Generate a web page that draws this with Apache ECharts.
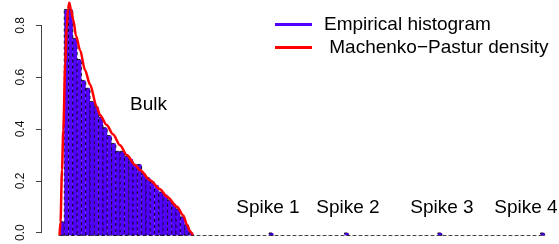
<!DOCTYPE html>
<html>
<head>
<meta charset="utf-8">
<script src="https://cdn.jsdelivr.net/npm/echarts@6/dist/echarts.min.js"></script>
<style>
  html, body { margin: 0; padding: 0; background: #fff; }
  #main { width: 559px; height: 244px; }
</style>
</head>
<body>
<div id="main"></div>
<script>
// histogram of the bulk: equal-width bins starting at bulkStart
var bulkStart = 0.08
var binWidth = 0.0915
var bulkHeights = [0.052, 0.86, 0.86, 0.75, 0.67, 0.59, 0.56, 0.51, 0.49, 0.45,
    0.41, 0.38, 0.35, 0.32, 0.32, 0.30, 0.29, 0.27, 0.27, 0.235,
    0.22, 0.205, 0.19, 0.165, 0.155, 0.135, 0.12, 0.10, 0.07, 0.04, 0.01]
// the four isolated eigenvalues
var spikeLefts = [4.528, 6.134, 8.12, 10.305]
var spikeHeights = [0.009, 0.009, 0.009, 0.009]
var spikeNames = ['Spike 1', 'Spike 2', 'Spike 3', 'Spike 4']
// Marchenko-Pastur density
var densityX = [0.071, 0.092, 0.124, 0.151, 0.194, 0.224, 0.251, 0.279, 0.315, 0.364,
    0.422, 0.507, 0.613, 0.719, 0.862, 0.932, 1.075, 1.209, 1.358, 1.507,
    1.677, 1.783, 1.996, 2.209, 2.358, 2.571, 2.705, 2.783, 2.847, 2.905]
var densityY = [0, 0.05, 0.25, 0.40, 0.66, 0.79, 0.86, 0.886, 0.86, 0.82,
    0.76, 0.706, 0.63, 0.575, 0.49, 0.458, 0.42, 0.385, 0.343, 0.305,
    0.268, 0.249, 0.21, 0.175, 0.147, 0.109, 0.075, 0.04, 0.015, 0]
var yTicks = [0, 0.2, 0.4, 0.6, 0.8]

var barColor = '#5200ff'
var font = "'Liberation Sans', Arial, Helvetica, sans-serif"

var bins = []
bulkHeights.forEach(function (h, i) {
    var x0 = bulkStart + i * binWidth
    bins.push([x0, x0 + binWidth, h])
})
spikeLefts.forEach(function (x0, i) {
    bins.push([x0, x0 + binWidth, spikeHeights[i]])
})
var curve = densityX.map(function (x, i) { return [x, densityY[i]] })

var chart = echarts.init(document.getElementById('main'), null, { renderer: 'canvas' })

chart.setOption({
    animation: false,
    textStyle: { fontFamily: font },
    grid: [
        // grid 0 only carries the visible y axis (R draws it from 0 to 0.8)
        { left: 41, top: 25.3, bottom: 8.7, width: 10 },
        // grid 1 holds the data
        { left: 59, right: 14, top: 4.3, bottom: 8.7 }
    ],
    xAxis: [
        { gridIndex: 0, type: 'value', show: false, min: 0, max: 1 },
        {
            gridIndex: 1, type: 'value', min: 0.06, max: 10.4,
            axisLine: { show: true, lineStyle: { color: '#444', width: 1, type: [3, 3] } },
            axisTick: { show: false },
            axisLabel: { show: false },
            splitLine: { show: false }
        }
    ],
    yAxis: [
        {
            gridIndex: 0, type: 'value', min: yTicks[0], max: yTicks[yTicks.length - 1], interval: 0.2,
            axisLine: { show: true, lineStyle: { color: '#444', width: 1 } },
            axisTick: { show: true, length: 5, lineStyle: { color: '#444' } },
            axisLabel: {
                rotate: 90, margin: 14, fontSize: 12, color: '#111',
                formatter: function (v) { return v.toFixed(1) }
            },
            splitLine: { show: false }
        },
        { gridIndex: 1, type: 'value', min: 0, max: 0.88, show: false }
    ],
    legend: {
        orient: 'vertical',
        left: 275,
        top: 15,
        padding: 0,
        itemGap: 4,
        itemWidth: 37,
        itemHeight: 3,
        icon: 'rect',
        itemStyle: { borderWidth: 0 },
        textStyle: { fontSize: 19, lineHeight: 19, color: '#000', padding: [0, 0, 0, 7] },
        data: ['Empirical histogram', ' Machenko\u2212Pastur density']
    },
    series: [
        {
            name: 'Empirical histogram',
            type: 'custom',
            xAxisIndex: 1,
            yAxisIndex: 1,
            itemStyle: { color: barColor },
            encode: { x: [0, 1], y: 2 },
            renderItem: function (params, api) {
                var p0 = api.coord([api.value(0), api.value(2)])
                var p1 = api.coord([api.value(1), 0])
                return {
                    type: 'rect',
                    shape: { x: p0[0], y: p0[1], width: p1[0] - p0[0], height: p1[1] - p0[1] },
                    style: { fill: barColor, stroke: '#000', lineWidth: 0.8, lineDash: [3, 3] }
                }
            },
            data: bins
        },
        {
            name: ' Machenko\u2212Pastur density',
            type: 'line',
            xAxisIndex: 1,
            yAxisIndex: 1,
            showSymbol: false,
            symbol: 'none',
            smooth: 0.3,
            smoothMonotone: 'x',
            clip: false,
            itemStyle: { color: '#ff0000' },
            lineStyle: { color: '#ff0000', width: 2.5 },
            data: curve
        }
    ],
    graphic: [
        { type: 'text', left: 130, top: 95, style: { text: 'Bulk', font: '19px ' + font, fill: '#000' } }
    ].concat([268, 348, 442, 526].map(function (cx, i) {
        return {
            type: 'text', x: cx, y: 208,
            style: { text: spikeNames[i], font: '19px ' + font, fill: '#000', align: 'center', verticalAlign: 'middle' }
        }
    }))
})
</script>
</body>
</html>
